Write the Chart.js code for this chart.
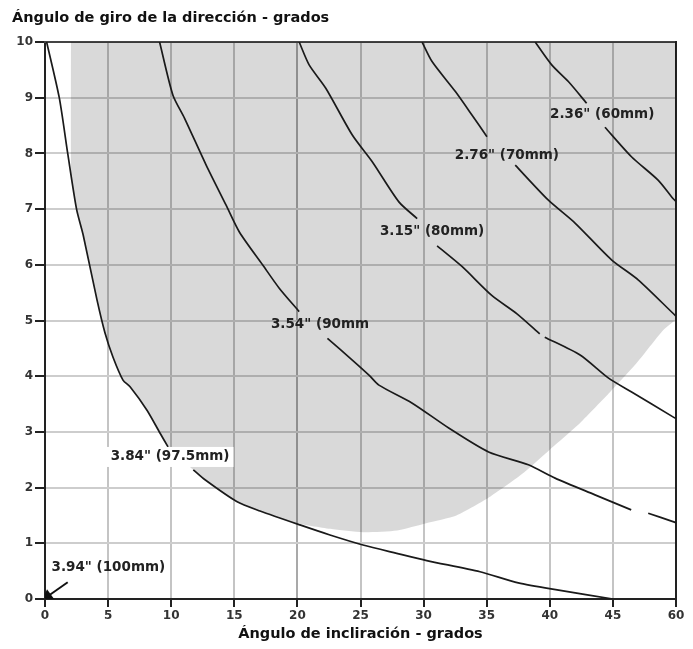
<!DOCTYPE html>
<html>
<head>
<meta charset="utf-8">
<script src="https://cdn.jsdelivr.net/npm/chart.js@4.4.1/dist/chart.umd.min.js"></script>
<style>
html,body{margin:0;padding:0;background:#fff;}
canvas{display:block;}
</style>
</head>
<body>
<canvas id="c" width="693" height="649"></canvas>
<script>
// ---- Data ----
const xTitle = 'Ángulo de incliración - grados';
const yTitle = 'Ángulo de giro de la dirección - grados';
const xTickValues = [0, 5, 10, 15, 20, 25, 30, 35, 40, 45, 50];
const xTickLabels = ['0', '5', '10', '15', '20', '25', '30', '35', '40', '45', '60'];
const yTickLabels = ['0', '1', '2', '3', '4', '5', '6', '7', '8', '9', '10'];

// 3.84" (97.5mm)
const c975x = [0.13, 1.13, 1.8, 2.5, 3.03, 4.12, 4.75, 5.39, 6.18, 6.74, 8.08, 9.11, 9.75, 10.7, 11.75, 12.68, 15.19, 17.04, 20.2, 22.58, 25.2, 27.87, 30.25, 34.47, 37.5, 40.7, 45.0];
const c975y = [10, 9, 8, 7, 6.53, 5.37, 4.78, 4.34, 3.93, 3.81, 3.39, 2.98, 2.73, null, 2.32, 2.14, 1.75, 1.58, 1.33, 1.15, 0.97, 0.82, 0.69, 0.49, 0.29, 0.16, 0];
// 3.54" (90mm)
const c90x = [9.08, 10.13, 11.06, 12.77, 14.35, 15.4, 17.24, 18.56, 20.14, 21.2, 22.38, 24.35, 25.67, 26.46, 29.07, 31.99, 35.15, 38.3, 40.42, 43.58, 46.45, 47.1, 47.8, 49.76, 50];
const c90y = [10, 9.05, 8.63, 7.79, 7.07, 6.59, 6.0, 5.58, 5.16, null, 4.68, 4.29, 4.02, 3.84, 3.52, 3.07, 2.64, 2.41, 2.17, 1.87, 1.6, null, 1.54, 1.39, 1.37];
// 3.15" (80mm)
const c80x = [20.14, 20.93, 22.25, 24.35, 25.93, 28.04, 29.49, 30.3, 31.07, 33.04, 35.4, 37.4, 39.2, 39.4, 39.6, 42.4, 44.63, 46.45, 49.76, 50];
const c80y = [10, 9.59, 9.17, 8.33, 7.85, 7.13, 6.83, null, 6.34, 5.97, 5.45, 5.12, 4.76, null, 4.7, 4.38, 3.97, 3.72, 3.27, 3.24];
// 2.76" (70mm)
const c70x = [29.88, 30.67, 32.52, 33.83, 35.02, 36.2, 37.26, 39.89, 42.0, 44.89, 47.0, 49.76, 50];
const c70y = [10, 9.65, 9.11, 8.69, 8.3, null, 7.79, 7.16, 6.75, 6.09, 5.73, 5.13, 5.08];
// 2.36" (60mm)
const c60x = [38.84, 40.15, 41.47, 42.92, 43.7, 44.37, 46.47, 48.58, 49.76, 50];
const c60y = [10, 9.59, 9.29, 8.9, null, 8.47, 7.94, 7.52, 7.19, 7.14];

// shaded zone: lower/left boundary (filled up to the top of the chart)
const zoneX = [2.04, 2.04, 2.5, 3.03, 4.12, 4.75, 5.39, 6.18, 6.74, 8.08, 9.11, 9.75, 11.75, 12.68, 15.19, 17.04, 19.6, 22.6, 25.2, 27.9, 30.2, 32.6, 35.3, 37.9, 40.0, 42.4, 44.8, 46.9, 49.0, 50];
const zoneY = [10, 7.65, 7.0, 6.53, 5.37, 4.78, 4.34, 3.93, 3.81, 3.39, 2.98, 2.73, 2.32, 2.14, 1.75, 1.58, 1.38, 1.26, 1.2, 1.23, 1.36, 1.5, 1.84, 2.26, 2.68, 3.16, 3.72, 4.24, 4.83, 5.02];

// arrow to the origin for 3.94" (100mm)
const arrowX = [1.8, 0.22];
const arrowY = [0.3, 0.05];

// curve labels
const labelText = ['3.94" (100mm)', '3.84" (97.5mm)', '3.54" (90mm', '3.15" (80mm)', '2.76" (70mm)', '2.36" (60mm)'];
const labelX = [5.02, 9.91, 21.79, 30.67, 36.6, 44.15];
const labelY = [0.56, 2.55, 4.92, 6.6, 7.97, 8.69];
const labelBoxed = [false, true, false, false, false, false];

// ---- build ----
const FONT = "'DejaVu Sans', 'Liberation Sans', sans-serif";
function pts(xs, ys) { return xs.map((x, i) => ({x: x, y: ys[i]})); }
function curve(xs, ys) {
  return {data: pts(xs, ys), showLine: true, borderColor: '#1a1a1a', borderWidth: 1.7,
          pointRadius: 0, fill: false, spanGaps: false, tension: 0.25, order: 1};
}

const labelPlugin = {
  id: 'curveLabels',
  afterDatasetsDraw(chart) {
    const ctx = chart.ctx, xs = chart.scales.x, ys = chart.scales.y;
    ctx.save();
    ctx.font = "bold 13.5px " + FONT;
    ctx.textAlign = 'center';
    ctx.textBaseline = 'middle';
    labelText.forEach((t, i) => {
      const px = xs.getPixelForValue(labelX[i]);
      const py = ys.getPixelForValue(labelY[i]);
      if (labelBoxed[i]) {
        const w = ctx.measureText(t).width;
        ctx.fillStyle = '#ffffff';
        ctx.fillRect(px - w / 2 - 4, py - 10, w + 8, 20);
      }
      ctx.fillStyle = '#222';
      ctx.fillText(t, px, py);
    });
    ctx.restore();
  }
};

new Chart(document.getElementById('c'), {
  type: 'scatter',
  data: {
    datasets: [
      curve(c975x, c975y),
      curve(c90x, c90y),
      curve(c80x, c80y),
      curve(c70x, c70y),
      curve(c60x, c60y),
      {data: pts(arrowX, arrowY), showLine: true, borderColor: '#111', borderWidth: 2,
       pointRadius: [0, 5], pointStyle: 'triangle', rotation: 234,
       pointBackgroundColor: '#111', pointBorderColor: '#111', order: 1},
      {data: pts(zoneX, zoneY), showLine: true, borderWidth: 0, borderColor: 'rgba(0,0,0,0)',
       pointRadius: 0, fill: 'end', backgroundColor: 'rgba(0,0,0,0.15)', tension: 0.2, order: 10}
    ]
  },
  options: {
    responsive: false,
    animation: false,
    events: [],
    layout: {padding: {left: 12, right: 17, top: 0, bottom: 0}},
    plugins: {
      legend: {display: false},
      tooltip: {enabled: false},
      title: {
        display: true, text: yTitle, align: 'start', color: '#111',
        font: {family: FONT, size: 14.5, weight: 'bold'},
        padding: {top: 10, bottom: 14.6}
      }
    },
    scales: {
      x: {
        type: 'linear', position: 'bottom', min: 0, max: 50,
        afterBuildTicks: (a) => { a.ticks = xTickValues.map(v => ({value: v})); },
        ticks: {
          callback: (v) => xTickLabels[xTickValues.indexOf(v)],
          color: '#333', font: {family: FONT, size: 12, weight: 'bold'},
          padding: 2, maxRotation: 0, autoSkip: false
        },
        grid: {
          color: (c) => (c.tick && c.tick.value === 20) ? '#a9a9a9' : '#c4c4c4',
          lineWidth: 2, tickColor: '#222', tickLength: 8, tickWidth: 2
        },
        border: {color: '#222', width: 2},
        title: {display: true, text: xTitle, color: '#111',
                font: {family: FONT, size: 14.5, weight: 'bold'}, padding: {top: 0, bottom: 6}},
        afterFit: (a) => { a.height = 50; }
      },
      y: {
        type: 'linear', position: 'left', min: 0, max: 10,
        ticks: {
          stepSize: 1,
          callback: (v) => yTickLabels[v],
          color: '#333', font: {family: FONT, size: 12, weight: 'bold'}, padding: 2
        },
        grid: {color: '#cdcdcd', lineWidth: 2, tickColor: '#222', tickLength: 10, tickWidth: 2},
        border: {color: '#222', width: 2},
        afterFit: (a) => { a.width = 33; }
      },
      xTop: {
        type: 'linear', position: 'top', min: 0, max: 50,
        ticks: {display: false}, grid: {display: false, drawTicks: false},
        border: {color: '#444', width: 2},
        afterFit: (a) => { a.height = 0; }
      },
      yRight: {
        type: 'linear', position: 'right', min: 0, max: 10,
        ticks: {display: false}, grid: {display: false, drawTicks: false},
        border: {color: '#222', width: 2},
        afterFit: (a) => { a.width = 0; }
      }
    }
  },
  plugins: [labelPlugin]
});
</script>
</body>
</html>
